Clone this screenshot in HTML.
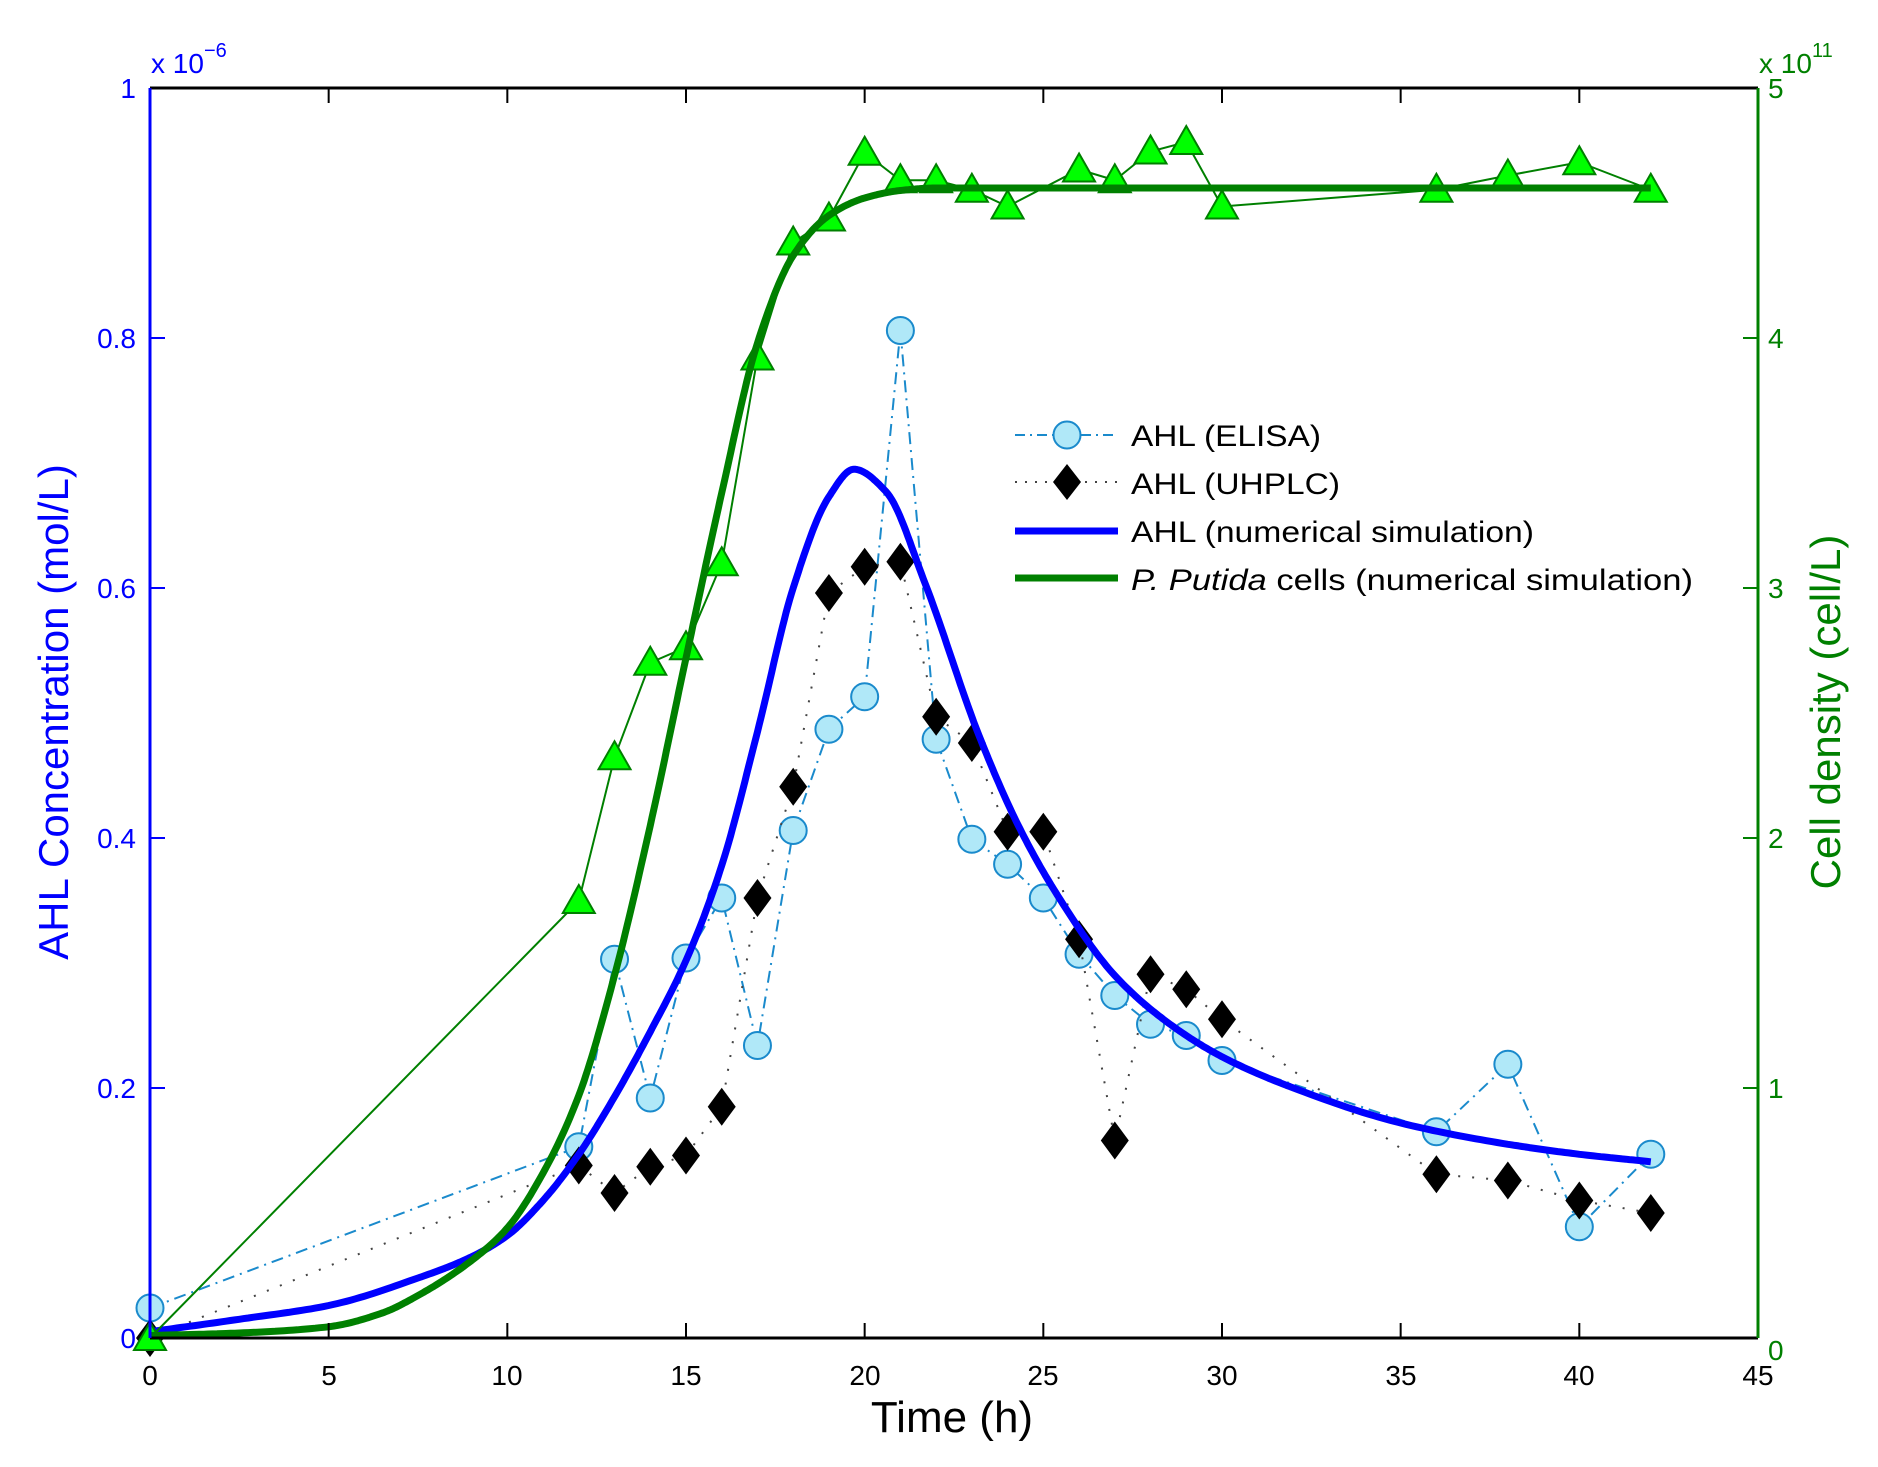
<!DOCTYPE html>
<html><head><meta charset="utf-8"><style>
html,body{margin:0;padding:0;background:#fff;}
svg{display:block;font-family:"Liberation Sans",Arial,sans-serif;}
</style></head><body>
<svg id="s" width="1878" height="1467" viewBox="0 0 1878 1467" xmlns="http://www.w3.org/2000/svg">
<rect width="1878" height="1467" fill="#fff"/>
<g id="plot"></g>
<line x1="150" y1="88" x2="1758" y2="88" stroke="#000" stroke-width="3"/>
<line x1="150" y1="1338" x2="1758" y2="1338" stroke="#000" stroke-width="3"/>
<line x1="150" y1="88" x2="150" y2="1338" stroke="#0000ff" stroke-width="3"/>
<line x1="1758" y1="88" x2="1758" y2="1338" stroke="#008000" stroke-width="3"/>
<g id="ticks"></g>
<g font-size="28" fill="#0000ff" text-anchor="end">
<text x="136" y="1348">0</text>
<text x="136" y="1098">0.2</text>
<text x="136" y="848">0.4</text>
<text x="136" y="598">0.6</text>
<text x="136" y="348">0.8</text>
<text x="136" y="98">1</text>
</g>
<g font-size="28" fill="#008000" text-anchor="start">
<text x="1768" y="1360">0</text>
<text x="1768" y="1098">1</text>
<text x="1768" y="848">2</text>
<text x="1768" y="598">3</text>
<text x="1768" y="348">4</text>
<text x="1768" y="98">5</text>
</g>
<g font-size="28" fill="#000" text-anchor="middle">
<text x="150" y="1385">0</text><text x="329" y="1385">5</text><text x="507" y="1385">10</text>
<text x="686" y="1385">15</text><text x="865" y="1385">20</text><text x="1043" y="1385">25</text>
<text x="1222" y="1385">30</text><text x="1401" y="1385">35</text><text x="1579" y="1385">40</text>
<text x="1758" y="1385">45</text>
</g>
<text x="151" y="73" font-size="28" fill="#0000ff">x 10<tspan font-size="20" dy="-16">−6</tspan></text>
<text x="1759" y="73" font-size="28" fill="#008000">x 10<tspan font-size="20" dy="-16">11</tspan></text>
<text x="952" y="1432" font-size="44" text-anchor="middle" fill="#000">Time (h)</text>
<text transform="translate(68,712) rotate(-90)" font-size="42" text-anchor="middle" fill="#0000ff">AHL Concentration (mol/L)</text>
<text transform="translate(1840,712) rotate(-90)" font-size="42" text-anchor="middle" fill="#008000">Cell density (cell/L)</text>
<g>
<line x1="1015" y1="435" x2="1118" y2="435" stroke="#1a8acc" stroke-width="2" stroke-dasharray="10,5,2,5"/>
<ellipse cx="1067" cy="435" rx="13.5" ry="13.5" fill="#b0e8f8" stroke="#1a8acc" stroke-width="2"/>
<line x1="1015" y1="482" x2="1118" y2="482" stroke="#444" stroke-width="2" stroke-dasharray="2,8"/>
<polygon points="1067,464 1081,482 1067,500 1053,482" fill="#000"/>
<line x1="1015" y1="531" x2="1118" y2="531" stroke="#0000ff" stroke-width="7"/>
<line x1="1015" y1="578" x2="1118" y2="578" stroke="#008000" stroke-width="7"/>
<g font-size="30" fill="#000">
<text x="1131" y="446" textLength="190" lengthAdjust="spacingAndGlyphs">AHL (ELISA)</text>
<text x="1131" y="494" textLength="209" lengthAdjust="spacingAndGlyphs">AHL (UHPLC)</text>
<text x="1131" y="542" textLength="403" lengthAdjust="spacingAndGlyphs">AHL (numerical simulation)</text>
<text x="1131" y="590" textLength="562" lengthAdjust="spacingAndGlyphs"><tspan font-style="italic">P. Putida</tspan>  cells (numerical simulation)</text>
</g>
</g>
</svg>
<script>
var NS="http://www.w3.org/2000/svg";
function X(t){return 150+t*35.733;}
function YL(v){return 1338-v*1250;}
function YR(c){return 1338-c*250;}
var g=document.getElementById('plot');
function el(n,a){var e=document.createElementNS(NS,n);for(var k in a)e.setAttribute(k,a[k]);g.appendChild(e);return e;}
function mono(P){var n=P.length,x=P.map(function(p){return p[0]}),y=P.map(function(p){return p[1]});
 var d=[],m=[];for(var i=0;i<n-1;i++)d.push((y[i+1]-y[i])/(x[i+1]-x[i]));
 m[0]=d[0];m[n-1]=d[n-2];
 for(i=1;i<n-1;i++){if(d[i-1]*d[i]<=0)m[i]=0;else{var w1=2*(x[i+1]-x[i])+(x[i]-x[i-1]),w2=(x[i+1]-x[i])+2*(x[i]-x[i-1]);m[i]=(w1+w2)/(w1/d[i-1]+w2/d[i]);}}
 var out=[];for(i=0;i<n-1;i++){var h=x[i+1]-x[i];for(var k=0;k<20;k++){var s=k/20,h00=2*s*s*s-3*s*s+1,h10=s*s*s-2*s*s+s,h01=-2*s*s*s+3*s*s,h11=s*s*s-s*s;
 out.push([x[i]+s*h,h00*y[i]+h10*h*m[i]+h01*y[i+1]+h11*h*m[i+1]]);}}
 out.push([x[n-1],y[n-1]]);return out;}
var T=[0,12,13,14,15,16,17,18,19,20,21,22,23,24,25,26,27,28,29,30,36,38,40,42];
var E=[0.024,0.153,0.303,0.192,0.304,0.352,0.234,0.406,0.487,0.513,0.806,0.479,0.399,0.379,0.352,0.307,0.274,0.251,0.242,0.222,0.165,0.219,0.089,0.147];
var U=[0,0.138,0.116,0.137,0.146,0.185,0.352,0.441,0.596,0.617,0.621,0.497,0.476,0.405,0.405,0.319,0.158,0.291,0.279,0.255,0.131,0.126,0.110,0.100];
var GT=[0,12,13,14,15,16,17,18,19,20,21,22,23,24,26,27,28,29,30,36,38,40,42];
var GC=[0,1.748,2.323,2.701,2.763,3.099,3.922,4.382,4.478,4.741,4.631,4.631,4.593,4.526,4.674,4.631,4.746,4.784,4.526,4.593,4.650,4.703,4.593];
el('polyline',{points:T.map(function(t,i){return X(t)+','+YL(E[i]);}).join(' '),fill:'none',stroke:'#1a8acc','stroke-width':2,'stroke-dasharray':'12,6,2,6'});
T.forEach(function(t,i){el('ellipse',{cx:X(t),cy:YL(E[i]),rx:13.5,ry:13.5,fill:'#b0e8f8',stroke:'#1a8acc','stroke-width':2});});
el('polyline',{points:T.map(function(t,i){return X(t)+','+YL(U[i]);}).join(' '),fill:'none',stroke:'#444','stroke-width':2,'stroke-dasharray':'2,12'});
T.forEach(function(t,i){var x=X(t),y=YL(U[i]);el('polygon',{points:x+','+(y-19)+' '+(x+14)+','+y+' '+x+','+(y+19)+' '+(x-14)+','+y,fill:'#000'});});
var B=[[0,0.005],[2.5,0.015],[5,0.026],[7.5,0.048],[9,0.065],[10,0.082],[11,0.11],[12,0.147],[13,0.193],[14,0.245],[15,0.302],[16,0.378],[17,0.485],[18,0.6],[19,0.673],[19.7,0.695],[20.6,0.677],[21.7,0.603],[23.2,0.482],[24.3,0.41],[25.4,0.354],[27,0.29],[28.5,0.252],[30,0.225],[32,0.2],[35,0.172],[38,0.155],[40,0.147],[42,0.141]];
el('polyline',{points:mono(B).map(function(p){return X(p[0]).toFixed(1)+','+YL(p[1]).toFixed(1);}).join(' '),fill:'none',stroke:'#0000ff','stroke-width':7,'stroke-linejoin':'round'});
el('polyline',{points:GT.map(function(t,i){return X(t)+','+YR(GC[i]);}).join(' '),fill:'none',stroke:'#008000','stroke-width':2});
GT.forEach(function(t,i){var x=X(t),y=YR(GC[i]);el('polygon',{points:x+','+(y-16)+' '+(x+16)+','+(y+12)+' '+(x-16)+','+(y+12),fill:'#00ff00',stroke:'#008000','stroke-width':2});});
var G=[[0,0.01],[2.5,0.02],[5,0.045],[6.5,0.1],[7.5,0.17],[9,0.31],[10,0.44],[11,0.66],[12,0.97],[13,1.45],[14,2.05],[15,2.72],[16,3.38],[17,3.98],[18,4.33],[19,4.49],[20,4.56],[21,4.59],[22,4.6],[30,4.6],[42,4.6]];
el('polyline',{points:mono(G).map(function(p){return X(p[0]).toFixed(1)+','+YR(p[1]).toFixed(1);}).join(' '),fill:'none',stroke:'#008000','stroke-width':7,'stroke-linejoin':'round'});
var tk=document.getElementById('ticks');
function ln(x1,y1,x2,y2,c){var e=document.createElementNS(NS,'line');e.setAttribute('x1',x1);e.setAttribute('y1',y1);e.setAttribute('x2',x2);e.setAttribute('y2',y2);e.setAttribute('stroke',c);e.setAttribute('stroke-width',2);tk.appendChild(e);}
for(var t=5;t<45;t+=5){ln(X(t),1338,X(t),1323,'#000');ln(X(t),88,X(t),103,'#000');}
for(var v=0.2;v<1;v+=0.2){ln(150,YL(v),165,YL(v),'#0000ff');}
for(var c=1;c<5;c++){ln(1758,YR(c),1743,YR(c),'#008000');}
</script>
</body></html>
